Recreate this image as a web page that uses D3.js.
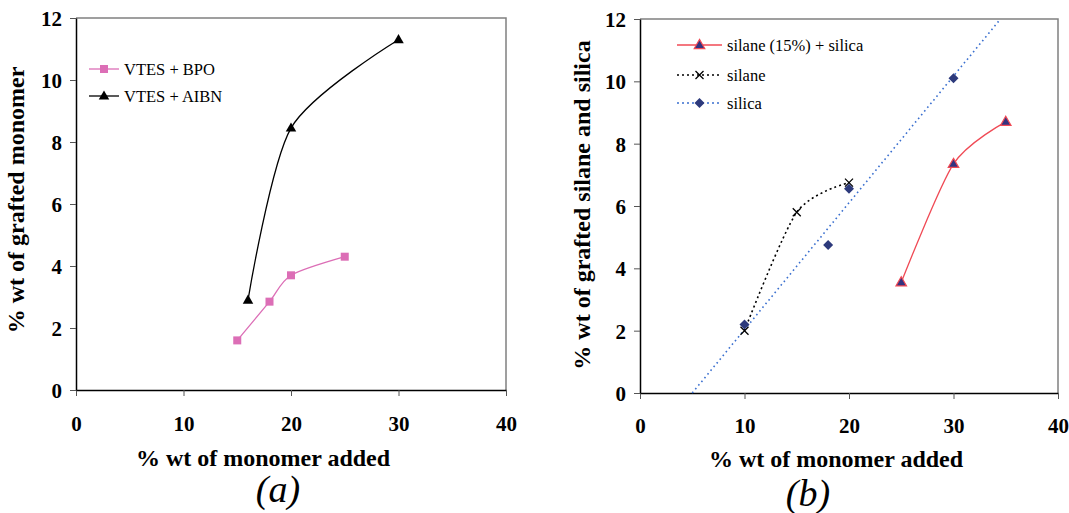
<!DOCTYPE html>
<html>
<head>
<meta charset="utf-8">
<script src="https://cdn.jsdelivr.net/npm/d3@7"></script>
<style>
  body { margin: 0; background: #fff; }
</style>
</head>
<body>
<svg id="chart" width="1069" height="513"></svg>
<script>
// ---- data ----
var xTicks = [0, 10, 20, 30, 40];
var yTicks = [0, 2, 4, 6, 8, 10, 12];

// panel (a)
var bpoX = [15, 18, 20, 25];
var bpoY = [1.6, 2.85, 3.7, 4.3];
var aibnX = [16, 20, 30];
var aibnY = [2.9, 8.45, 11.3];

// panel (b)
var mixX = [25, 30, 35];
var mixY = [3.55, 7.35, 8.7];
var silaneX = [10, 15, 20];
var silaneY = [2.0, 5.8, 6.75];
var silicaX = [10, 18, 20, 30];
var silicaY = [2.2, 4.75, 6.55, 10.1];
var silicaTrendX = [5, 34.5];
var silicaTrendY = [0, 12];

var FONT = "'Liberation Serif', 'DejaVu Serif', 'Times New Roman', serif";
var svg = d3.select("#chart").attr("font-family", FONT);

var zip = function(xs, ys) {
  return xs.map(function(x, i) { return [x, ys[i]]; });
};

var drawPanel = function(p) {
  var x = d3.scaleLinear().domain([0, 40]).range([p.left, p.right]);
  var y = d3.scaleLinear().domain([0, 12]).range([p.bottom, p.top]);
  var g = svg.append("g");

  // grey frame on top / right
  g.append("path")
    .attr("d", "M" + p.left + "," + p.top + "H" + p.right + "V" + p.bottom)
    .attr("fill", "none").attr("stroke", "#808080").attr("stroke-width", 1.5);

  var xAxis = g.append("g")
    .attr("transform", "translate(0," + p.bottom + ")")
    .call(d3.axisBottom(x).tickValues(xTicks).tickSize(6).tickSizeOuter(0));
  var yAxis = g.append("g")
    .attr("transform", "translate(" + p.left + ",0)")
    .call(d3.axisLeft(y).tickValues(yTicks).tickSize(6).tickSizeOuter(0));

  [xAxis, yAxis].forEach(function(a) {
    a.attr("font-family", FONT);
    a.select(".domain").attr("stroke", "#000").attr("stroke-width", 1.5);
    a.selectAll(".tick line").attr("stroke", "#555").attr("stroke-width", 1);
    a.selectAll(".tick text")
      .attr("fill", "#000")
      .attr("font-weight", "bold")
      .attr("font-size", "21px");
  });
  xAxis.selectAll(".tick text").attr("dy", null).attr("y", 0)
    .attr("transform", "translate(0," + p.xLabelDy + ")")
    .attr("dominant-baseline", "middle");
  yAxis.selectAll(".tick text").attr("x", -(p.left - p.yLabelX)).attr("dy", "0.35em");

  g.append("text")
    .attr("x", p.xTitleX).attr("y", p.xTitleY)
    .attr("text-anchor", "middle")
    .attr("font-weight", "bold").attr("font-size", "24px")
    .text("% wt of monomer added");

  g.append("text")
    .attr("transform", "translate(" + p.yTitleX + "," + p.yTitleY + ") rotate(-90)")
    .attr("text-anchor", "middle")
    .attr("font-weight", "bold").attr("font-size", "24px")
    .text(p.yTitle);

  g.append("text")
    .attr("x", p.capX).attr("y", p.capY)
    .attr("text-anchor", "middle")
    .attr("font-style", "italic").attr("font-size", "38px")
    .text(p.caption);

  return { g: g, x: x, y: y };
};

var smooth = function(sc) {
  return d3.line()
    .x(function(d) { return sc.x(d[0]); })
    .y(function(d) { return sc.y(d[1]); })
    .curve(d3.curveCardinal.tension(0.2));
};
var straight = function(sc) {
  return d3.line()
    .x(function(d) { return sc.x(d[0]); })
    .y(function(d) { return sc.y(d[1]); });
};

var marker = function(g, type, cx, cy, s) {
  if (type === "square") {
    g.append("rect").attr("x", cx - 4).attr("y", cy - 4).attr("width", 8).attr("height", 8)
      .attr("fill", s.fill);
  } else if (type === "triangle") {
    g.append("path").attr("d", d3.symbol(d3.symbolTriangle, 48)())
      .attr("transform", "translate(" + cx + "," + (cy + 0.5) + ")")
      .attr("fill", s.fill).attr("stroke", s.stroke || "none").attr("stroke-width", s.sw || 0);
  } else if (type === "diamond") {
    g.append("path").attr("d", "M0,-5L5,0L0,5L-5,0Z")
      .attr("transform", "translate(" + cx + "," + cy + ")")
      .attr("fill", s.fill);
  } else if (type === "cross") {
    g.append("path").attr("d", "M-4,-4L4,4M-4,4L4,-4")
      .attr("transform", "translate(" + cx + "," + cy + ")")
      .attr("stroke", s.fill).attr("stroke-width", 1.3).attr("fill", "none");
  }
};

var series = function(sc, pts, st) {
  sc.g.append("path").datum(pts)
    .attr("d", (st.straight ? straight(sc) : smooth(sc)))
    .attr("fill", "none").attr("stroke", st.line).attr("stroke-width", st.width || 1.3)
    .attr("stroke-dasharray", st.dash || null);
  if (st.type) {
    pts.forEach(function(d) { marker(sc.g, st.type, sc.x(d[0]), sc.y(d[1]), st); });
  }
};

var legend = function(sc, x0, x1, ys, items) {
  items.forEach(function(it, i) {
    sc.g.append("line").attr("x1", x0).attr("x2", x1).attr("y1", ys[i]).attr("y2", ys[i])
      .attr("stroke", it.line).attr("stroke-width", it.width || 1.3)
      .attr("stroke-dasharray", it.dash || null);
    marker(sc.g, it.type, (x0 + x1) / 2, ys[i], it);
    sc.g.append("text").attr("x", x1 + 5).attr("y", ys[i]).attr("dy", "0.35em")
      .attr("font-size", "16.5px").text(it.label);
  });
};

// ---- panel (a) ----
var a = drawPanel({
  left: 76, right: 506, top: 18, bottom: 390,
  xLabelDy: 36, yLabelX: 62,
  xTitleX: 263, xTitleY: 466, yTitleX: 24, yTitleY: 200,
  yTitle: "% wt of grafted monomer",
  capX: 278, capY: 502, caption: "(a)"
});
var bpoStyle = { line: "#dc6eb6", fill: "#dc6eb6", type: "square", label: "VTES + BPO" };
var aibnStyle = { line: "#000", fill: "#000", type: "triangle", label: "VTES + AIBN" };
series(a, zip(bpoX, bpoY), bpoStyle);
series(a, zip(aibnX, aibnY), aibnStyle);
legend(a, 89, 119, [69, 96], [bpoStyle, aibnStyle]);

// ---- panel (b) ----
var b = drawPanel({
  left: 640, right: 1058, top: 19, bottom: 393,
  xLabelDy: 35, yLabelX: 626,
  xTitleX: 836, xTitleY: 467, yTitleX: 590, yTitleY: 205,
  yTitle: "% wt of grafted silane and silica",
  capX: 808, capY: 506, caption: "(b)"
});
var trendStyle = { line: "#3a6fcf", dash: "1.6,3.2", width: 1.6, straight: true };
series(b, zip(silicaTrendX, silicaTrendY), trendStyle);
var mixStyle = { line: "#f04a55", fill: "#333380", stroke: "#f04a55", sw: 1.2, type: "triangle", label: "silane (15%) + silica" };
var silaneStyle = { line: "#000", fill: "#000", type: "cross", dash: "2,3", width: 1.6, label: "silane" };
var silicaStyle = { line: "#3a6fcf", fill: "#2d3a7c", type: "diamond", dash: "2,3", width: 1.6, label: "silica" };
series(b, zip(silaneX, silaneY), silaneStyle);
series(b, zip(mixX, mixY), mixStyle);
series(b, zip(silicaX, silicaY), { fill: "#2d3a7c", type: "diamond", line: "none" });
legend(b, 677, 722, [45, 75, 103], [mixStyle, silaneStyle, silicaStyle]);
</script>
</body>
</html>
